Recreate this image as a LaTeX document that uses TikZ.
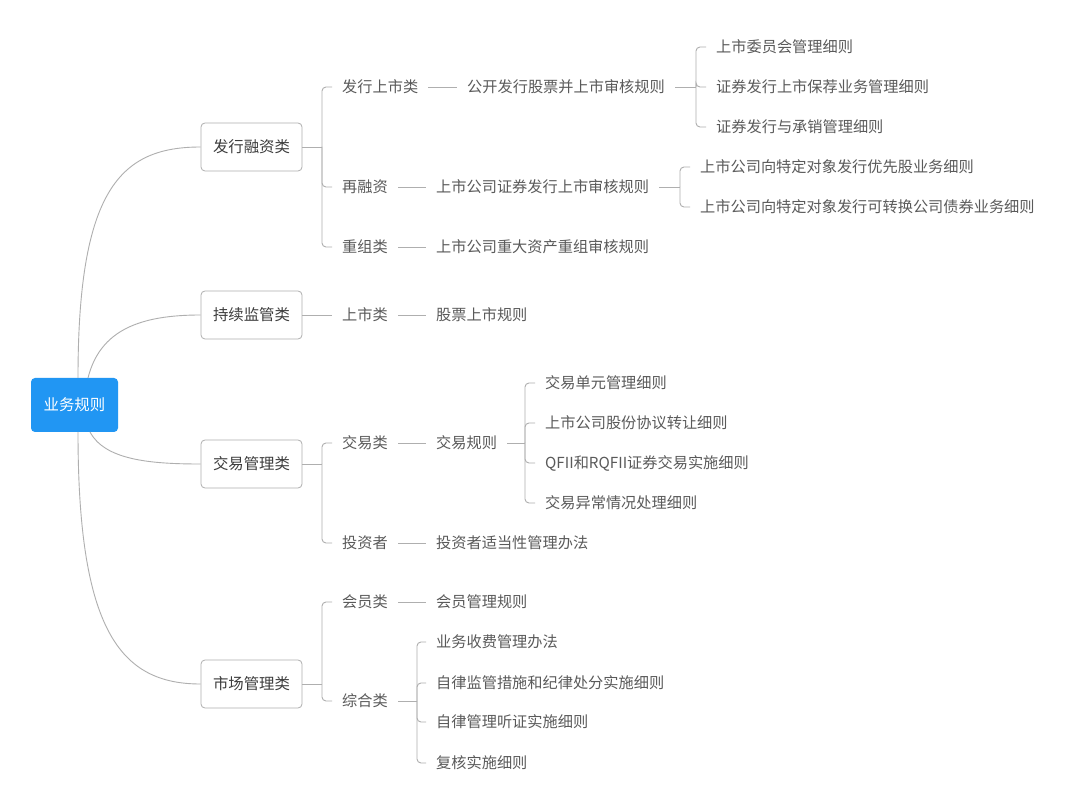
\documentclass[tikz,border=0pt]{standalone}
\usepackage{fontspec}
\newfontfamily\cjk{Noto Sans CJK SC}
\definecolor{rootblue}{RGB}{33,150,243}
\definecolor{linegray}{RGB}{175,175,175}
\definecolor{txtgray}{RGB}{90,90,90}
\definecolor{boxtxt}{RGB}{60,60,60}
\begin{document}
\begin{tikzpicture}[x=1pt,y=-1pt,
  lbl/.style={anchor=west,inner xsep=10pt,inner ysep=2pt,text=txtgray,font=\cjk\fontsize{15.2}{17}\selectfont},
  catbox/.style={draw=linegray,rounded corners=4pt,minimum width=101pt,minimum height=48pt,inner sep=0pt,text=boxtxt,font=\cjk\fontsize{15.4}{18}\selectfont,line width=0.8pt},
  rootbox/.style={fill=rootblue,rounded corners=4pt,minimum width=87pt,minimum height=54pt,inner sep=0pt,text=white,font=\cjk\fontsize{15.4}{18}\selectfont},
  conn/.style={draw=linegray,line width=0.9pt,rounded corners=4pt},
  curve/.style={draw=linegray,line width=0.9pt}
]
\useasboundingbox (0,0) rectangle (1080,810);
\fill[white] (0,0) rectangle (1080,810);

% root and categories
\node[rootbox] (root) at (74.5,405) {业务规则};
\node[catbox] (c1) at (251.5,147) {发行融资类};
\node[catbox] (c2) at (251.5,315) {持续监管类};
\node[catbox] (c3) at (251.5,464) {交易管理类};
\node[catbox] (c4) at (251.5,684) {市场管理类};

\coordinate (r1) at (78,378);
\coordinate (r2) at (88,378);
\coordinate (r3) at (90,432);
\coordinate (r4) at (78,432);
\draw[curve] (r1) .. controls (78,190) and (120,147) .. (c1.west);
\draw[curve] (r2) .. controls (100,330) and (140,315) .. (c2.west);
\draw[curve] (r3) .. controls (105,460) and (150,464) .. (c3.west);
\draw[curve] (r4) .. controls (78,630) and (120,684) .. (c4.west);

% level 2
\node[lbl] (a1) at (332,87) {发行上市类};
\node[lbl] (a2) at (332,187) {再融资};
\node[lbl] (a3) at (332,247) {重组类};
\node[lbl] (b1) at (332,315) {上市类};
\node[lbl] (d1) at (332,443) {交易类};
\node[lbl] (d2) at (332,543) {投资者};
\node[lbl] (e1) at (332,602) {会员类};
\node[lbl] (e2) at (332,701) {综合类};

\coordinate (j1) at (322,147);
\coordinate (j3) at (322,464);
\coordinate (j4) at (322,684);
\draw[conn] (c1.east) -- (j1);
\foreach \n in {a1,a2,a3} \draw[conn] (j1) |- (\n.west);
\draw[conn] (c2.east) -- (b1.west);
\draw[conn] (c3.east) -- (j3);
\foreach \n in {d1,d2} \draw[conn] (j3) |- (\n.west);
\draw[conn] (c4.east) -- (j4);
\foreach \n in {e1,e2} \draw[conn] (j4) |- (\n.west);

% level 3
\node[lbl] (a1x) at (457,87) {公开发行股票并上市审核规则};
\node[lbl] (a2x) at (426,187) {上市公司证券发行上市审核规则};
\node[lbl] (a3x) at (426,247) {上市公司重大资产重组审核规则};
\node[lbl] (b1x) at (426,315) {股票上市规则};
\node[lbl] (d1x) at (426,443) {交易规则};
\node[lbl] (d2x) at (426,543) {投资者适当性管理办法};
\node[lbl] (e1x) at (426,602) {会员管理规则};
\draw[conn] (a1.east) -- (a1x.west);
\draw[conn] (a2.east) -- (a2x.west);
\draw[conn] (a3.east) -- (a3x.west);
\draw[conn] (b1.east) -- (b1x.west);
\draw[conn] (d1.east) -- (d1x.west);
\draw[conn] (d2.east) -- (d2x.west);
\draw[conn] (e1.east) -- (e1x.west);

% level 4
\node[lbl] (f1) at (706,47) {上市委员会管理细则};
\node[lbl] (f2) at (706,87) {证券发行上市保荐业务管理细则};
\node[lbl] (f3) at (706,127) {证券发行与承销管理细则};
\coordinate (jf) at (696,87);
\draw[conn] (a1x.east) -- (jf);
\foreach \n in {f1,f2,f3} \draw[conn] (jf) |- (\n.west);

\node[lbl] (g1) at (690,167) {上市公司向特定对象发行优先股业务细则};
\node[lbl] (g2) at (690,207) {上市公司向特定对象发行可转换公司债券业务细则};
\coordinate (jg) at (680,187);
\draw[conn] (a2x.east) -- (jg);
\foreach \n in {g1,g2} \draw[conn] (jg) |- (\n.west);

\node[lbl] (h1) at (535,383) {交易单元管理细则};
\node[lbl] (h2) at (535,423) {上市公司股份协议转让细则};
\node[lbl] (h3) at (535,463) {QFII和RQFII证券交易实施细则};
\node[lbl] (h4) at (535,503) {交易异常情况处理细则};
\coordinate (jh) at (525,443);
\draw[conn] (d1x.east) -- (jh);
\foreach \n in {h1,h2,h3,h4} \draw[conn] (jh) |- (\n.west);

\node[lbl] (k1) at (426,642) {业务收费管理办法};
\node[lbl] (k2) at (426,683) {自律监管措施和纪律处分实施细则};
\node[lbl] (k3) at (426,722) {自律管理听证实施细则};
\node[lbl] (k4) at (426,763) {复核实施细则};
\coordinate (jk) at (417,701);
\draw[conn] (e2.east) -- (jk);
\foreach \n in {k1,k2,k3,k4} \draw[conn] (jk) |- (\n.west);
\end{tikzpicture}
\end{document}
